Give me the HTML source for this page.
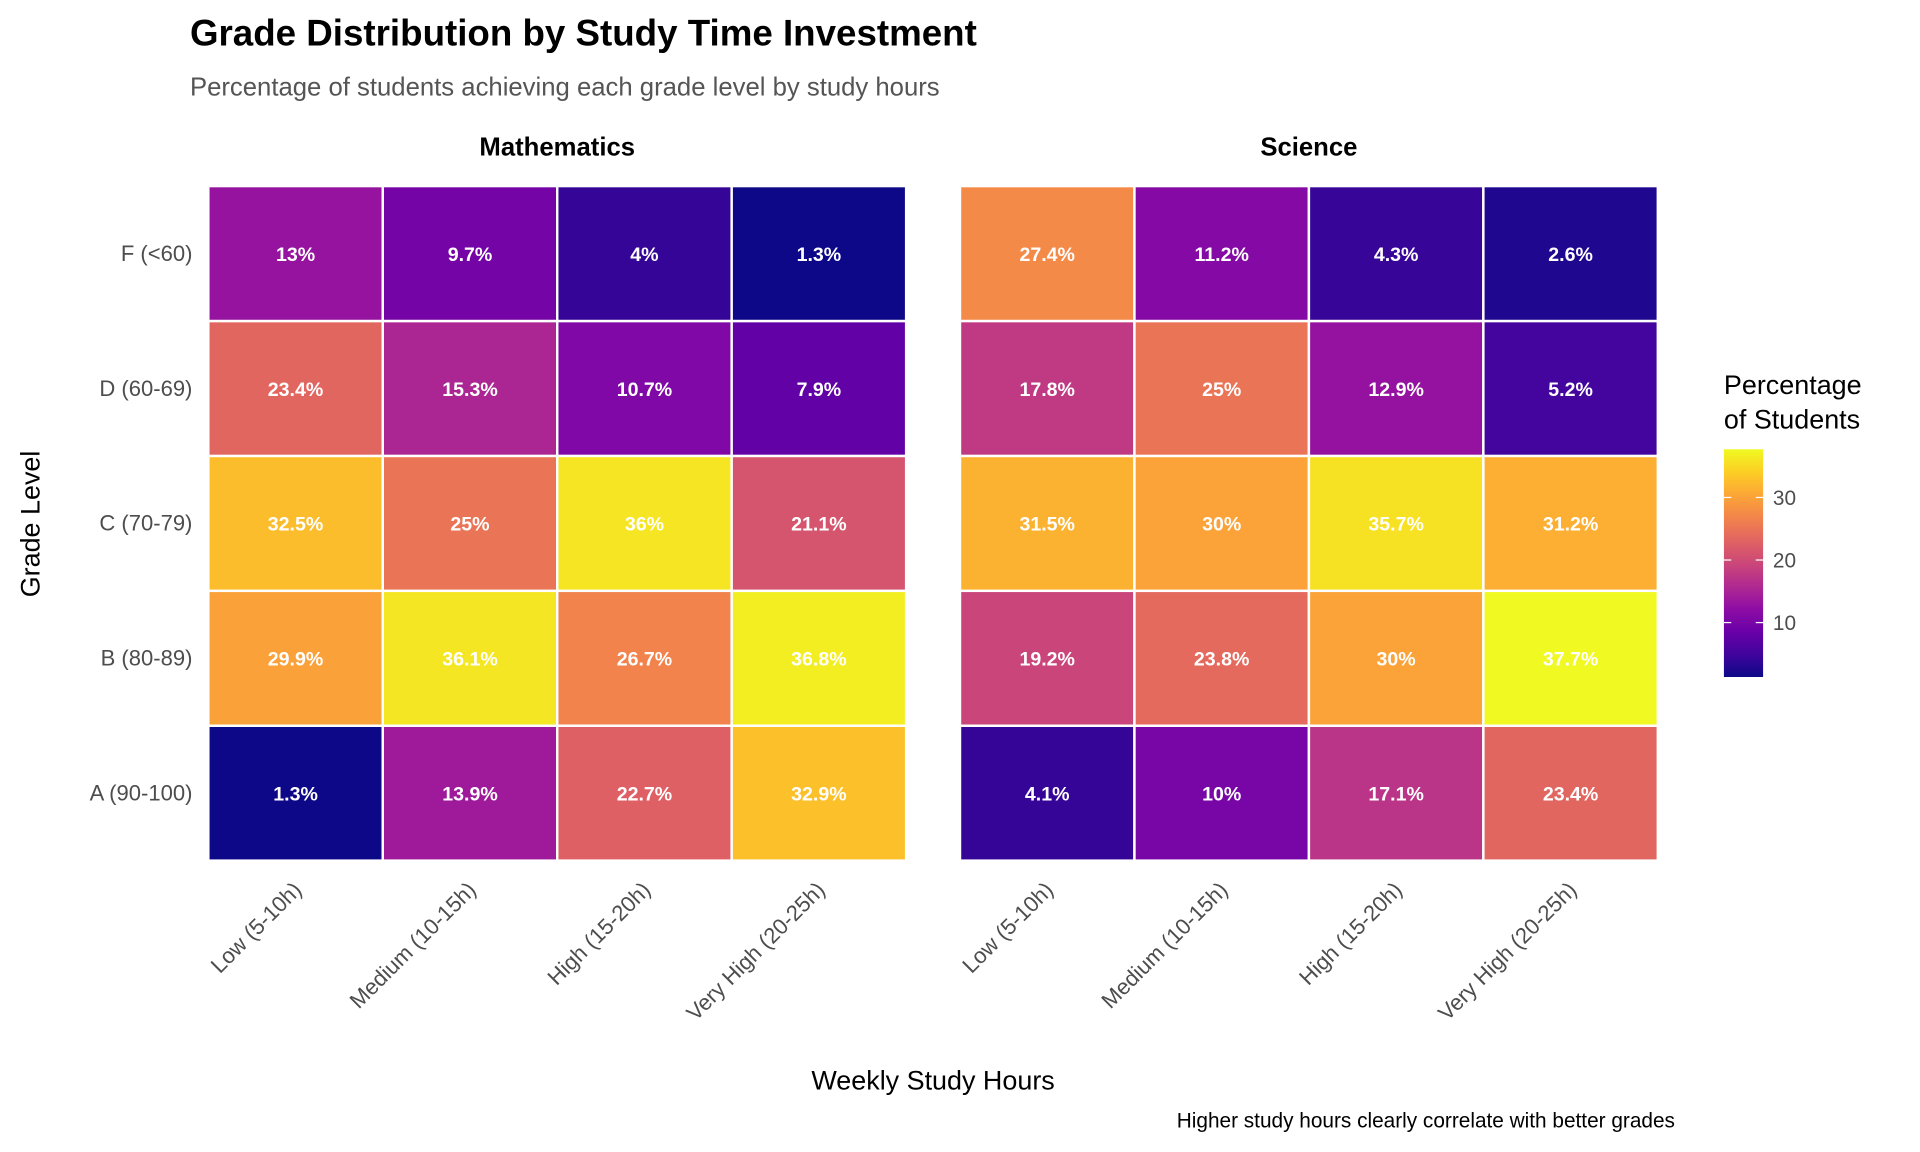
<!DOCTYPE html>
<html><head><meta charset="utf-8"><style>
html,body{margin:0;padding:0;background:#fff;}
svg{display:block;font-family:"Liberation Sans",Arial,sans-serif;}
</style></head><body>
<svg id="chart" width="1920" height="1152" viewBox="0 0 1568 941" xmlns="http://www.w3.org/2000/svg">
<defs>
<linearGradient id="plasma" x1="0" y1="1" x2="0" y2="0">
<stop offset="0" stop-color="#0d0887"/><stop offset="0.1" stop-color="#41049d"/><stop offset="0.2" stop-color="#6a00a8"/><stop offset="0.3" stop-color="#8f0da4"/><stop offset="0.4" stop-color="#b12a90"/><stop offset="0.5" stop-color="#cc4778"/><stop offset="0.6" stop-color="#e16462"/><stop offset="0.7" stop-color="#f2844b"/><stop offset="0.8" stop-color="#fca636"/><stop offset="0.9" stop-color="#fcce25"/><stop offset="1" stop-color="#f0f921"/>
</linearGradient>
</defs>
<text x="155" y="37" font-size="30" font-weight="bold" fill="#000">Grade Distribution by Study Time Investment</text>
<text x="155" y="78" font-size="21" fill="#555">Percentage of students achieving each grade level by study hours</text>
<text x="455" y="127" font-size="21" font-weight="bold" text-anchor="middle">Mathematics</text>
<text x="1069" y="127" font-size="21" font-weight="bold" text-anchor="middle">Science</text>
<g id="cells"></g>
<g id="ylabels"></g>
<g id="xlabels"></g>
<text x="762" y="890" font-size="22" text-anchor="middle">Weekly Study Hours</text>
<text transform="translate(32,428) rotate(-90)" font-size="22" text-anchor="middle">Grade Level</text>
<text x="1368" y="921" font-size="17" text-anchor="end">Higher study hours clearly correlate with better grades</text>
<g>
<text x="1408" y="322" font-size="22">Percentage</text>
<text x="1408" y="350" font-size="22">of Students</text>
<rect x="1408" y="367" width="32" height="186" fill="url(#plasma)"/>
<g id="legendticks"></g>
</g>
</svg>
<script>
const grades = ["A (90-100)","B (80-89)","C (70-79)","D (60-69)","F (<60)"];
const hours = ["Low (5-10h)","Medium (10-15h)","High (15-20h)","Very High (20-25h)"];
const subjects = ["Mathematics","Science"];
const mathValues = [
  [1.3,13.9,22.7,32.9],
  [29.9,36.1,26.7,36.8],
  [32.5,25,36,21.1],
  [23.4,15.3,10.7,7.9],
  [13,9.7,4,1.3]
];
const scienceValues = [
  [4.1,10,17.1,23.4],
  [19.2,23.8,30,37.7],
  [31.5,30,35.7,31.2],
  [17.8,25,12.9,5.2],
  [27.4,11.2,4.3,2.6]
];
const legendTicks = [10,20,30];

const NS="http://www.w3.org/2000/svg";
const stops=["#0d0887","#41049d","#6a00a8","#8f0da4","#b12a90","#cc4778","#e16462","#f2844b","#fca636","#fcce25","#f0f921"];
const allVals=mathValues.flat().concat(scienceValues.flat());
const vmin=Math.min(...allVals), vmax=Math.max(...allVals);
function hex(h){return [1,3,5].map(i=>parseInt(h.substr(i,2),16));}
function color(v){
  let t=(v-vmin)/(vmax-vmin); t=Math.max(0,Math.min(1,t));
  const p=t*(stops.length-1), i=Math.min(Math.floor(p),stops.length-2), f=p-i;
  const a=hex(stops[i]), b=hex(stops[i+1]);
  return "rgb("+a.map((c,k)=>Math.round(c+(b[k]-c)*f)).join(",")+")";
}
const panelX=[170,784], panelW=570, plotTop=152, plotH=551;
const cw=panelW/hours.length, rh=plotH/grades.length;
function xPos(p,j){return panelX[p]+j*cw;}
function yPos(i){return plotTop+(grades.length-1-i)*rh;}
const cells=document.getElementById("cells");
[mathValues,scienceValues].forEach((vals,p)=>{
  vals.forEach((row,i)=>row.forEach((v,j)=>{
    const r=document.createElementNS(NS,"rect");
    r.setAttribute("x",xPos(p,j));r.setAttribute("y",yPos(i));
    r.setAttribute("width",cw);r.setAttribute("height",rh);
    r.setAttribute("fill",color(v));r.setAttribute("stroke","#fff");r.setAttribute("stroke-width","2");
    
    
    cells.appendChild(r);
    const t=document.createElementNS(NS,"text");
    t.setAttribute("x",xPos(p,j)+cw/2);t.setAttribute("y",yPos(i)+rh/2+6);
    t.setAttribute("text-anchor","middle");t.setAttribute("font-size","16");t.setAttribute("font-weight","bold");t.setAttribute("fill","#fff");
    t.textContent=v+"%";
    
    
    cells.appendChild(t);
  }));
});
const yl=document.getElementById("ylabels");
grades.forEach((g,i)=>{
  const t=document.createElementNS(NS,"text");
  t.setAttribute("x",157);t.setAttribute("y",yPos(i)+rh/2+6);
  t.setAttribute("text-anchor","end");t.setAttribute("font-size","18");t.setAttribute("fill","#4d4d4d");
  t.textContent=g;
  
  
  yl.appendChild(t);
});
const xl=document.getElementById("xlabels");
[0,1].forEach(p=>hours.forEach((h,j)=>{
  const t=document.createElementNS(NS,"text");
  const x=xPos(p,j)+cw/2+6, y=728;
  t.setAttribute("transform","translate("+x+","+y+") rotate(-45)");
  t.setAttribute("text-anchor","end");t.setAttribute("font-size","18");t.setAttribute("fill","#4d4d4d");
  t.textContent=h;
  
  
  xl.appendChild(t);
}));
const lt=document.getElementById("legendticks");
const barTop=367, barH=186;
legendTicks.forEach(v=>{
  const y=barTop+barH*(1-(v-vmin)/(vmax-vmin));
  [1408,1434].forEach(x0=>{
    const l=document.createElementNS(NS,"line");
    l.setAttribute("x1",x0);l.setAttribute("x2",x0+6);l.setAttribute("y1",y);l.setAttribute("y2",y);
    l.setAttribute("stroke","#fff");l.setAttribute("stroke-width","1");
    
    
    lt.appendChild(l);
  });
  const t=document.createElementNS(NS,"text");
  t.setAttribute("x",1448);t.setAttribute("y",y+6);t.setAttribute("font-size","17");t.setAttribute("fill","#4d4d4d");
  t.textContent=v;
  
  
  lt.appendChild(t);
});
</script>
</body></html>
